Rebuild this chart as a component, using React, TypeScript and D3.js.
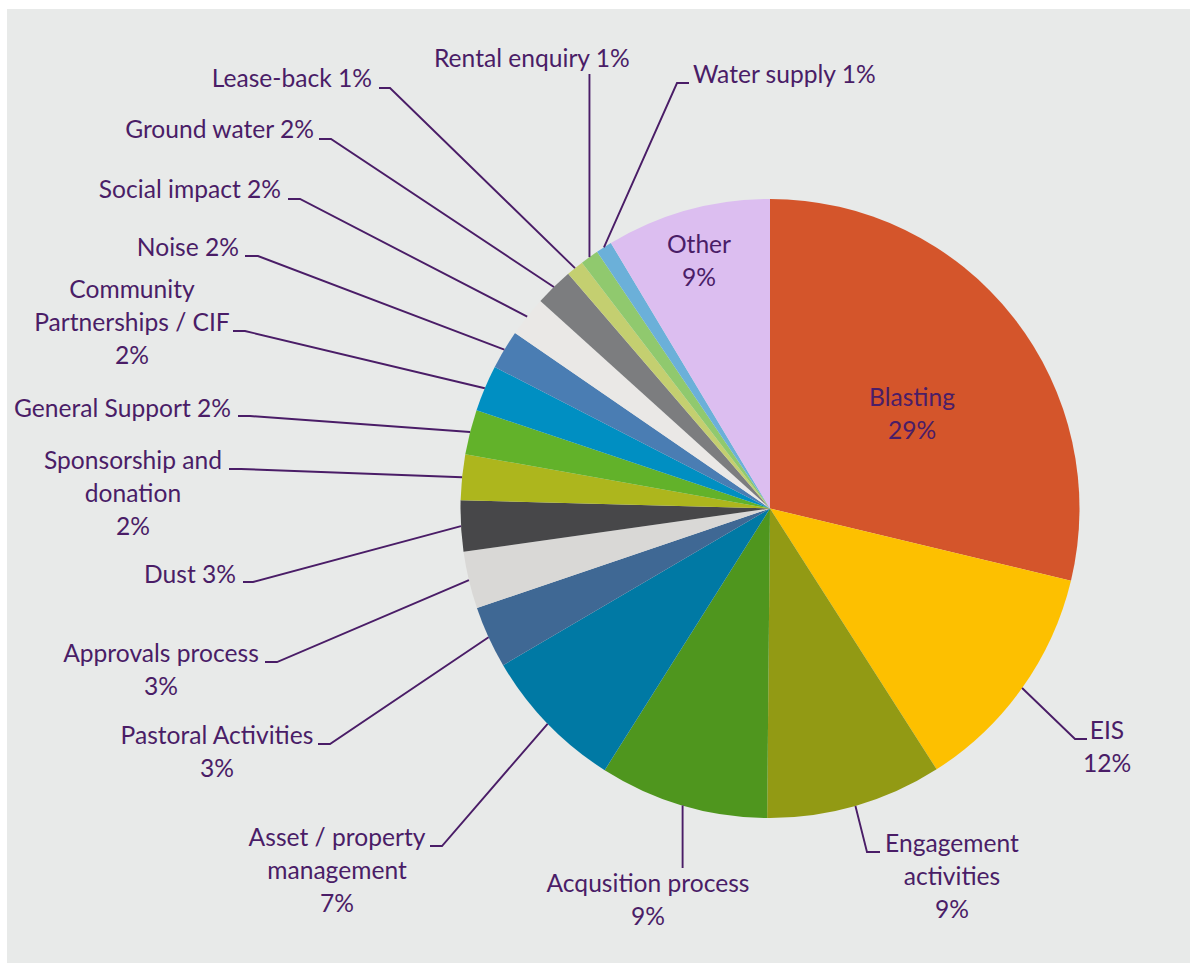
import React from "react";
import * as d3 from "d3";

const categories = [
  "Blasting", "EIS", "Engagement activities", "Acqusition process", "Asset / property management",
  "Pastoral Activities", "Approvals process", "Dust", "Sponsorship and donation", "General Support",
  "Community Partnerships / CIF", "Noise", "Social impact", "Ground water", "Lease-back",
  "Rental enquiry", "Water supply", "Other",
];
const values = [28.74, 12.2, 9.19, 8.82, 7.58, 3.24, 2.98, 2.65, 2.38, 2.34, 2.41, 2.04, 2.1, 2.0, 0.91, 0.96, 0.84, 8.59];
const pctLabels = ["29%", "12%", "9%", "9%", "7%", "3%", "3%", "3%", "2%", "2%", "2%", "2%", "2%", "2%", "1%", "1%", "1%", "9%"];
const colors = [
  "#d4552b", "#fdc000", "#929a14", "#4f961e", "#0079a4",
  "#3f6894", "#d9d8d6", "#474749", "#adb61d", "#62b22a",
  "#008fc2", "#4a7db3", "#eae8e6", "#7c7d7f", "#c4cf70",
  "#90c96e", "#6bb0d9", "#dcbef0",
];

// label layout: text lines, anchor, x, first baseline, leader elbow / horizontal end
type Lay = {
  lines: string[];
  anchor: "start" | "middle" | "end";
  x: number;
  y: number;
  elbow?: [number, number];
  hEnd?: number;
  vertical?: number;
  inside?: boolean;
};
const layout: Lay[] = [
  { lines: ["Blasting", "29%"], anchor: "middle", x: 912, y: 406, inside: true },
  { lines: ["EIS", "12%"], anchor: "middle", x: 1107, y: 739, elbow: [1075, 739], hEnd: 1087 },
  { lines: ["Engagement", "activities", "9%"], anchor: "middle", x: 952, y: 852, elbow: [867, 852], hEnd: 880 },
  { lines: ["Acqusition process", "9%"], anchor: "middle", x: 648, y: 892, vertical: 868 },
  { lines: ["Asset / property", "management", "7%"], anchor: "middle", x: 337, y: 846, elbow: [442, 846], hEnd: 430 },
  { lines: ["Pastoral Activities", "3%"], anchor: "middle", x: 217, y: 744, elbow: [330, 744], hEnd: 318 },
  { lines: ["Approvals process", "3%"], anchor: "middle", x: 161, y: 662, elbow: [277, 662], hEnd: 265 },
  { lines: ["Dust 3%"], anchor: "end", x: 236, y: 583, elbow: [253, 582], hEnd: 243 },
  { lines: ["Sponsorship and", "donation", "2%"], anchor: "middle", x: 133, y: 469, elbow: [241, 469], hEnd: 229 },
  { lines: ["General Support 2%"], anchor: "end", x: 231, y: 417, elbow: [250, 416], hEnd: 238 },
  { lines: ["Community", "Partnerships / CIF", "2%"], anchor: "middle", x: 132, y: 298, elbow: [245, 331], hEnd: 233 },
  { lines: ["Noise 2%"], anchor: "end", x: 239, y: 256, elbow: [258, 256], hEnd: 245 },
  { lines: ["Social impact 2%"], anchor: "end", x: 281, y: 198, elbow: [300, 199], hEnd: 288 },
  { lines: ["Ground water 2%"], anchor: "end", x: 314, y: 138, elbow: [331, 139], hEnd: 319 },
  { lines: ["Lease-back 1%"], anchor: "end", x: 372, y: 87, elbow: [390, 88], hEnd: 379 },
  { lines: ["Rental enquiry 1%"], anchor: "start", x: 434, y: 67, vertical: 74 },
  { lines: ["Water supply 1%"], anchor: "start", x: 693, y: 83, elbow: [677, 83], hEnd: 689 },
  { lines: ["Other", "9%"], anchor: "middle", x: 699, y: 253, inside: true },
];

const W = 1190;
const H = 965;
const CX = 770;
const CY = 508.5;
const R = 309.5;
const TEXT = "#4a1d67";
const FONT = "Lato, 'Open Sans', sans-serif";
const FS = 24.6;
const LH = 33;

export default function App() {
  const pie = d3.pie<number>().sort(null).value((d) => d).startAngle(0).endAngle(2 * Math.PI);
  const arcs = pie(values);
  const arc = d3.arc<d3.PieArcDatum<number>>().innerRadius(0).outerRadius(R);

  return (
    <svg width={W} height={H} style={{ position: "absolute", left: 0, top: 0 }} xmlns="http://www.w3.org/2000/svg">
      <rect x={0} y={0} width={W} height={H} fill="#ffffff" />
      <rect x={7} y={9} width={W - 7} height={954} fill="#e8eae9" />
      <g transform={`translate(${CX},${CY})`}>
        {arcs.map((a, i) => (
          <path key={categories[i]} d={arc(a) || ""} fill={colors[i]} />
        ))}
      </g>
      {arcs.map((a, i) => {
        const L = layout[i];
        if (L.inside) return null;
        const mid = (a.startAngle + a.endAngle) / 2;
        const ex = CX + R * Math.sin(mid);
        const ey = CY - R * Math.cos(mid);
        let pts: [number, number][];
        if (L.vertical !== undefined) {
          pts = [[ex, ey], [ex, L.vertical]];
        } else {
          const [bx, by] = L.elbow!;
          pts = [[ex, ey], [bx, by], [L.hEnd!, by]];
        }
        return (
          <path
            key={"l" + i}
            d={d3.line()(pts) || ""}
            fill="none"
            stroke={TEXT}
            strokeWidth={1.9}
          />
        );
      })}
      {layout.map((L, i) => (
        <text
          key={"t" + i}
          x={L.x}
          y={L.y}
          textAnchor={L.anchor}
          fontFamily={FONT}
          fontSize={FS}
          fill={TEXT}
        >
          {L.lines.map((ln, j) => (
            <tspan key={j} x={L.x} y={L.y + j * LH}>
              {ln}
            </tspan>
          ))}
        </text>
      ))}
    </svg>
  );
}
